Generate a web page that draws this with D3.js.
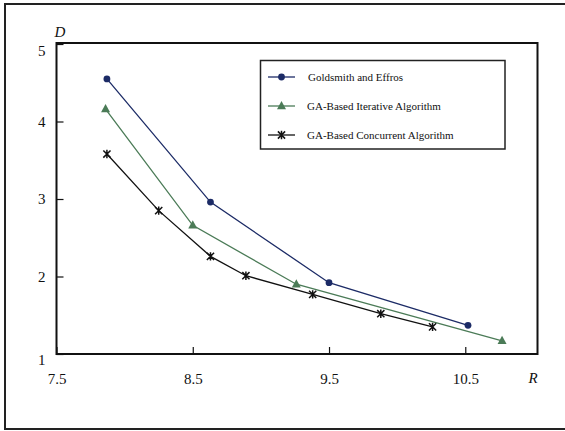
<!DOCTYPE html>
<html>
<head>
<meta charset="utf-8">
<script src="https://cdn.jsdelivr.net/npm/d3@7/dist/d3.min.js"></script>
<style>
  html, body { margin: 0; padding: 0; background: #fff; }
  svg { display: block; }
</style>
</head>
<body>
<svg id="chart" width="565" height="431"></svg>
<script>
// Rate R vs. distortion D for three algorithms
const seriesNames = ["Goldsmith and Effros", "GA-Based Iterative Algorithm", "GA-Based Concurrent Algorithm"];
const goldsmithR = [7.87, 8.63, 9.50, 10.52];
const goldsmithD = [4.55, 2.96, 1.92, 1.37];
const iterativeR = [7.86, 8.50, 9.26, 10.77];
const iterativeD = [4.16, 2.66, 1.90, 1.17];
const concurrentR = [7.87, 8.25, 8.63, 8.89, 9.38, 9.88, 10.26];
const concurrentD = [3.58, 2.85, 2.26, 2.01, 1.77, 1.52, 1.35];
const xTicks = [7.5, 8.5, 9.5, 10.5];
const yTicks = [1, 2, 3, 4, 5];
const colors = ["#1c2b66", "#4b7b57", "#111111"];
const markers = ["circle", "triangle", "star"];

const SERIF = "'Liberation Serif', 'Times New Roman'";

const svg = d3.select("#chart").style("font-family", SERIF);

// outer frame (open on the right side)
svg.append("rect")
  .attr("x", 5).attr("y", 4).attr("width", 580).attr("height", 425)
  .attr("fill", "none").attr("stroke", "#222").attr("stroke-width", 2);

const x = d3.scaleLinear().domain([7.5, 11.03]).range([56.5, 537.5]);
const y = d3.scaleLinear().domain([1, 5]).range([354, 44]);

// x axis with inward ticks
const gx = svg.append("g").attr("transform", `translate(0,${y(1)})`)
  .call(d3.axisBottom(x).tickValues(xTicks).tickFormat(d3.format(".1f"))
    .tickSizeInner(-7).tickSizeOuter(0).tickPadding(19));
gx.attr("font-family", null);
gx.select(".domain").remove();
gx.selectAll("line").attr("stroke", "#111").attr("stroke-width", 1.2);
gx.selectAll("text").style("font-family", SERIF).attr("font-size", 15).attr("fill", "#111");

// y axis with inward ticks
const gy = svg.append("g").attr("transform", `translate(${x(7.5)},0)`)
  .call(d3.axisLeft(y).tickValues(yTicks).tickFormat(d3.format("d"))
    .tickSizeInner(-7).tickSizeOuter(0).tickPadding(11));
gy.attr("font-family", null);
gy.select(".domain").remove();
gy.selectAll("line").attr("stroke", "#111").attr("stroke-width", 1.2);
gy.selectAll("text").style("font-family", SERIF).attr("font-size", 15).attr("fill", "#111")
  .attr("dy", d => d === 5 ? "0.75em" : d === 1 ? "0.7em" : "0.32em");

// plot frame
svg.append("rect")
  .attr("x", x(7.5)).attr("y", 43)
  .attr("width", 537.5 - x(7.5)).attr("height", y(1) - 43)
  .attr("fill", "none").attr("stroke", "#111").attr("stroke-width", 2);

// axis titles
svg.append("text").attr("x", 60).attr("y", 37).attr("text-anchor", "middle")
  .style("font-family", SERIF).attr("font-size", 15).attr("font-style", "italic").attr("fill", "#111").text("D");
svg.append("text").attr("x", 533).attr("y", 383).attr("text-anchor", "middle")
  .style("font-family", SERIF).attr("font-size", 15).attr("font-style", "italic").attr("fill", "#111").text("R");

function drawMarker(g, kind, cx, cy, color) {
  if (kind === "circle") {
    g.append("circle").attr("cx", cx).attr("cy", cy).attr("r", 3.4).attr("fill", color);
  } else if (kind === "triangle") {
    g.append("path")
      .attr("d", `M${cx},${cy - 5}L${cx + 4.5},${cy + 3.2}L${cx - 4.5},${cy + 3.2}Z`)
      .attr("fill", color);
  } else {
    const s = 3.6;
    g.append("path")
      .attr("d", `M${cx - s},${cy - s}L${cx + s},${cy + s}M${cx + s},${cy - s}L${cx - s},${cy + s}M${cx},${cy - s - 0.6}L${cx},${cy + s + 0.6}`)
      .attr("stroke", color).attr("stroke-width", 1.5).attr("fill", "none");
  }
}

const allSeries = [
  { r: goldsmithR, d: goldsmithD },
  { r: iterativeR, d: iterativeD },
  { r: concurrentR, d: concurrentD }
];

const line = d3.line().x(p => x(p[0])).y(p => y(p[1]));

allSeries.forEach((s, i) => {
  const pts = s.r.map((r, k) => [r, s.d[k]]);
  const g = svg.append("g");
  g.append("path").attr("d", line(pts)).attr("fill", "none")
    .attr("stroke", colors[i]).attr("stroke-width", 1.3);
  pts.forEach(p => drawMarker(g, markers[i], x(p[0]), y(p[1]), colors[i]));
});

// legend
const lg = svg.append("g");
lg.append("rect").attr("x", 260.5).attr("y", 60.5).attr("width", 244.5).attr("height", 88.5)
  .attr("fill", "#fff").attr("stroke", "#222").attr("stroke-width", 1.5);
const rowY = [77, 106, 135];
seriesNames.forEach((name, i) => {
  lg.append("line").attr("x1", 268).attr("x2", 295).attr("y1", rowY[i]).attr("y2", rowY[i])
    .attr("stroke", colors[i]).attr("stroke-width", 1.3);
  drawMarker(lg, markers[i], 281.5, rowY[i], colors[i]);
  lg.append("text").attr("x", i === 0 ? 308 : 307).attr("y", rowY[i] + 4)
    .style("font-family", SERIF).attr("font-size", 11).attr("fill", "#111").text(name);
});
</script>
</body>
</html>
